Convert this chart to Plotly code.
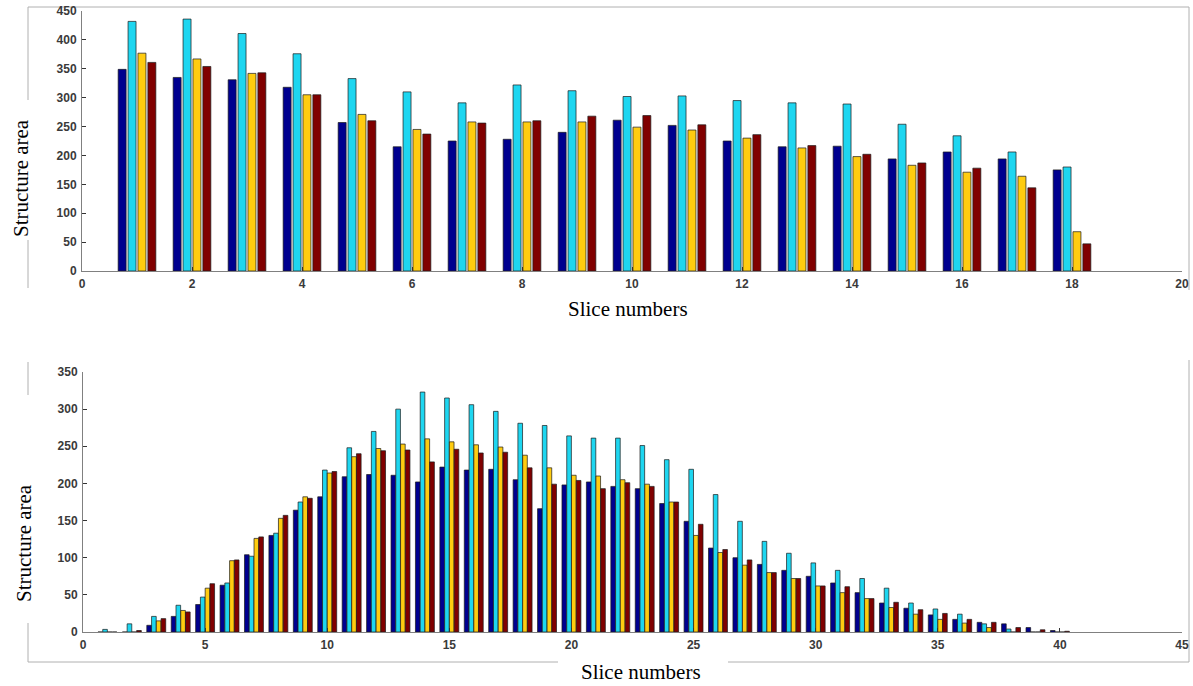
import plotly.graph_objects as go

W, H = 1193, 686

# ---------------- data ----------------
top_slices = list(range(1, 19))
top_navy = [349, 335, 331, 318, 257, 215, 225, 228, 240, 261, 252, 225, 215, 216, 194, 206, 194, 175]
top_cyan = [432, 436, 411, 376, 333, 310, 291, 322, 312, 302, 303, 295, 291, 289, 254, 234, 206, 180]
top_yellow = [377, 367, 342, 305, 271, 245, 258, 258, 258, 249, 244, 230, 213, 198, 183, 171, 164, 68]
top_red = [361, 354, 343, 305, 260, 237, 256, 260, 268, 269, 253, 236, 217, 202, 187, 178, 144, 47]

bot_slices = list(range(1, 41))
bot_navy = [0, 0, 9, 21, 37, 63, 104, 130, 164, 182, 209, 212, 211, 202, 222, 218, 219, 205, 166, 198,
            202, 196, 193, 173, 149, 113, 100, 91, 83, 75, 66, 53, 39, 32, 23, 17, 13, 11, 6, 2]
bot_cyan = [3.5, 11, 21, 36, 47, 66, 102, 133, 175, 218, 248, 270, 300, 323, 315, 306, 297, 281, 278, 264,
            261, 261, 251, 232, 219, 185, 149, 122, 106, 93, 83, 72, 59, 39, 31, 24, 11, 4, 0, 0]
bot_yellow = [0, 0, 15, 29, 59, 96, 126, 153, 182, 214, 236, 247, 253, 260, 256, 252, 249, 238, 221, 211,
              210, 205, 199, 175, 130, 107, 90, 80, 72, 62, 53, 45, 33, 24, 17, 12, 6, 0, 0, 0]
bot_red = [0, 2, 18, 27, 65, 97, 128, 157, 180, 216, 240, 244, 245, 229, 246, 241, 242, 221, 199, 204,
           193, 201, 196, 175, 145, 111, 97, 80, 72, 62, 61, 45, 40, 30, 25, 17, 13, 6, 3, 1]

top_xticks = list(range(0, 21, 2))
top_yticks = list(range(0, 451, 50))
bot_xticks = list(range(0, 46, 5))
bot_yticks = list(range(0, 351, 50))

# ---------------- style ----------------
colors = ["#00008F", "#1ED6F0", "#FFCC10", "#800000"]
edge = dict(color="#1a1a1a", width=0.7)


def px(x):
    return x / W


def py(y):
    return 1 - y / H


fig = go.Figure()

top_series = [top_navy, top_cyan, top_yellow, top_red]
bot_series = [bot_navy, bot_cyan, bot_yellow, bot_red]

tw, tpitch = 0.145, 0.18
for i, (vals, c) in enumerate(zip(top_series, colors)):
    center = (i - 1.5) * tpitch
    fig.add_trace(go.Bar(x=top_slices, y=vals, marker=dict(color=c, line=edge),
                         width=tw, offset=center - tw / 2, xaxis="x", yaxis="y",
                         showlegend=False))

bw, bpitch = 0.19, 0.195
for i, (vals, c) in enumerate(zip(bot_series, colors)):
    center = (i - 1.5) * bpitch
    fig.add_trace(go.Bar(x=bot_slices, y=vals, marker=dict(color=c, line=edge),
                         width=bw, offset=center - bw / 2, xaxis="x2", yaxis="y2",
                         showlegend=False))

tickfont = dict(family="Liberation Sans", size=12, color="#3a3a3a", weight="bold")
axis_common = dict(showgrid=False, zeroline=False, showline=True, linecolor="#808080", linewidth=1,
                   ticks="inside", ticklen=4, tickcolor="#333", tickwidth=1, tickfont=tickfont,
                   ticklabelstandoff=2, automargin=False)

fig.update_layout(
    width=W, height=H,
    margin=dict(l=0, r=0, t=0, b=0, autoexpand=False),
    paper_bgcolor="white", plot_bgcolor="white",
    barmode="overlay",
    xaxis=dict(domain=[px(82), px(1182)], range=[0, 20], tickvals=top_xticks, anchor="y", **axis_common),
    yaxis=dict(domain=[py(271), py(11)], range=[0, 450], tickvals=top_yticks, anchor="x", **axis_common),
    xaxis2=dict(domain=[px(83), px(1182)], range=[0, 45], tickvals=bot_xticks, anchor="y2", **axis_common),
    yaxis2=dict(domain=[py(632), py(372)], range=[0, 350], tickvals=bot_yticks, anchor="x2", **axis_common),
)

# decorative frame lines (paper coords)
frame = dict(color="#b0b0b0", width=1)
segments = [
    # top frame
    (28, 7, 1189, 7), (28, 7, 28, 100), (28, 240, 28, 288), (1189, 7, 1189, 290),
    # bottom frame
    (28, 362, 28, 395), (28, 623, 28, 662), (28, 662, 558, 662), (728, 662, 1189, 662),
    (1189, 360, 1189, 662),
]
for x0, y0, x1, y1 in segments:
    fig.add_shape(type="line", xref="paper", yref="paper", x0=px(x0), y0=py(y0), x1=px(x1), y1=py(y1),
                  line=frame, layer="below")

title_font = dict(family="Liberation Serif", size=21, color="black")
annos = [
    ("Structure area", 21, 178, -90),
    ("Slice numbers", 628, 309, 0),
    ("Structure area", 24, 543, -90),
    ("Slice numbers", 641, 672, 0),
]
for text, x, y, ang in annos:
    fig.add_annotation(text=text, xref="paper", yref="paper", x=px(x), y=py(y), xanchor="center",
                       yanchor="middle", textangle=ang, showarrow=False, font=title_font,
                       bgcolor="white")

fig.write_html("out.html", config={"displayModeBar": False},
               post_script="document.body.style.margin='0';document.body.style.overflow='hidden';")
